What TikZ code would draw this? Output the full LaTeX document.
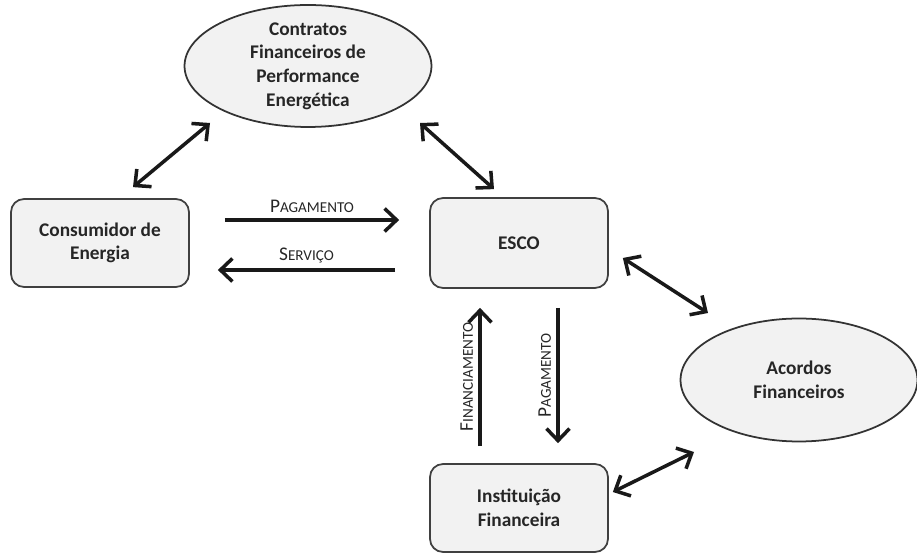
\documentclass[tikz,border=0pt]{standalone}
\usepackage{fontspec}
\setmainfont{Carlito}
\usetikzlibrary{arrows.meta,shapes.geometric}

\newcommand{\pcaps}[2]{#1{\fontsize{8.6}{10}\selectfont #2}}

\tikzset{
    caixa/.style={draw=black!75, line width=1pt, fill=black!5,
        rounded corners=0.26cm, minimum width=3.56cm, minimum height=1.76cm,
        align=center, text=black!85, font=\fontsize{11}{13.4}\selectfont\bfseries},
    elipse/.style={ellipse, draw=black!80, line width=1pt, fill=black!5, inner sep=0pt},
    texto/.style={align=center, text=black!85, font=\fontsize{11}{13.4}\selectfont\bfseries},
    seta/.style={line width=2pt, draw=black!90, -{Straight Barb[length=2.4mm,width=4.6mm]}},
    setadupla/.style={line width=2pt, draw=black!90,
        {Straight Barb[length=2.4mm,width=4.6mm]}-{Straight Barb[length=2.4mm,width=4.6mm]}},
    rotulo/.style={text=black!85, font=\fontsize{11}{13}\selectfont, inner sep=3pt}
}

\begin{document}
\begin{tikzpicture}[x=0.02cm, y=-0.02cm]
    \useasboundingbox (0,0) rectangle (917,553);

    % elipses
    \node[elipse, minimum width=4.94cm, minimum height=2.44cm] (contr) at (308,66) {};
    \node[texto] (contrtxt) at (contr) {Contratos\\Financeiros de\\Performance\\Energética};
    \node[elipse, minimum width=4.74cm, minimum height=2.46cm] (acord) at (799,380) {};
    \node[texto] (acordtxt) at (acord) {Acordos\\Financeiros};

    % caixas
    \node[caixa] (cons) at (100,243) {Consumidor de\\Energia};
    \node[caixa, minimum height=1.8cm] (esco) at (519,243) {ESCO};
    \node[caixa] (inst) at (519,508) {Instituição\\Financeira};

    % ligacoes
    \draw[setadupla] ([shift={(33,-11)}]cons.north) -- ([shift={(-98,57)}]contr.center);
    \draw[setadupla] ([shift={(112,57)}]contr.center) -- ([shift={(-25,-8)}]esco.north);
    \draw[setadupla] ([shift={(14,15)}]esco.east) -- ([shift={(-91,-67)}]acord.center);
    \draw[setadupla] ([shift={(4,-16)}]inst.east) -- ([shift={(-105,72)}]acord.center);

    \draw[seta] ([shift={(35,-23)}]cons.east) -- ([shift={(-30,-23)}]esco.west)
        node[rotulo, midway, above] {\pcaps{P}{AGAMENTO}};
    \draw[seta] ([shift={(-34,27)}]esco.west) -- ([shift={(28,27)}]cons.east)
        node[rotulo, midway, above] {\pcaps{S}{ERVIÇO}};

    \draw[seta] ([shift={(-39,-17)}]inst.north) -- ([shift={(-39,19)}]esco.south)
        node[rotulo, midway, above, rotate=90] {\pcaps{F}{INANCIAMENTO}};
    \draw[seta] ([shift={(39,19)}]esco.south) -- ([shift={(39,-20)}]inst.north)
        node[rotulo, midway, above, rotate=90] {\pcaps{P}{AGAMENTO}};
\end{tikzpicture}
\end{document}
